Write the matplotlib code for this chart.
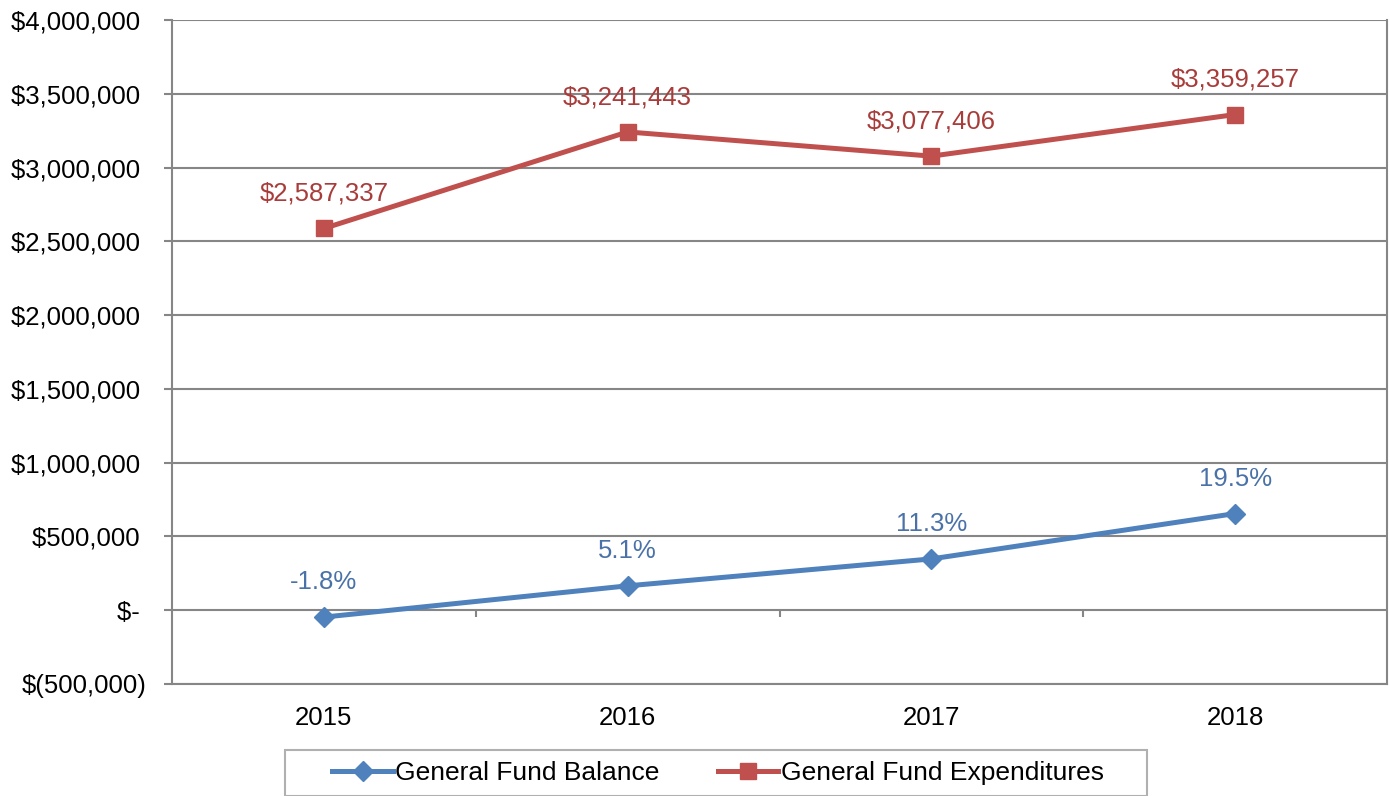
import matplotlib.pyplot as plt
from matplotlib.patches import Rectangle

plt.rcParams['font.family'] = ['Liberation Sans', 'DejaVu Sans']

# data
years = ['2015', '2016', '2017', '2018']
expenditures = [2587337, 3241443, 3077406, 3359257]
balance_pct = [-1.8, 5.1, 11.3, 19.5]
balance = [-46572, 165314, 347747, 655055]
y_ticks = [-500000, 0, 500000, 1000000, 1500000, 2000000, 2500000, 3000000, 3500000, 4000000]
y_tick_labels = ['$(500,000)', '$- ', '$500,000 ', '$1,000,000 ', '$1,500,000 ', '$2,000,000 ',
                 '$2,500,000 ', '$3,000,000 ', '$3,500,000 ', '$4,000,000 ']

RED = '#C0504D'
BLUE = '#4F81BD'
GRID = '#868686'

fig = plt.figure(figsize=(13.9, 7.96), dpi=100)
ax = fig.add_axes([172 / 1390, 1 - 684 / 796, (1387 - 172) / 1390, (684 - 20) / 796])

x = range(len(years))
ax.plot(x, balance, color=BLUE, lw=3.6, marker='D', ms=10, label='General Fund Balance', zorder=4)
ax.plot(x, expenditures, color=RED, lw=3.6, marker='s', ms=11.5, label='General Fund Expenditures', zorder=4)

# data labels
for i, v in enumerate(expenditures):
    ax.annotate(f'${v:,}', (i, v), xytext=(0, 25), textcoords='offset points',
                ha='center', va='center', fontsize=18.5, color='#A83C3A')
for i, v in enumerate(balance):
    ax.annotate(f'{balance_pct[i]}%', (i, v), xytext=(0, 25), textcoords='offset points',
                ha='center', va='center', fontsize=18.5, color='#4A72A8')

ax.set_xlim(-0.5, 3.5)
ax.set_ylim(-500000, 4000000)
ax.set_yticks(y_ticks)
ax.set_yticklabels(y_tick_labels)
ax.set_xticks(list(x))
ax.set_xticklabels(years)

ax.tick_params(axis='y', labelsize=18.5, length=6, width=1.5, color=GRID, pad=12)
ax.tick_params(axis='x', labelsize=18.5, length=0, pad=16)

ax.grid(axis='y', color=GRID, lw=1.5)
ax.set_axisbelow(True)
for s in ['left', 'bottom', 'right', 'top']:
    ax.spines[s].set_color(GRID)
    ax.spines[s].set_linewidth(1.5)
ax.spines['top'].set_visible(False)

# category tick marks on the zero line
ax.vlines([0.5, 1.5, 2.5], -48000, 0, color=GRID, lw=1.5)

# legend with a hand-drawn box
fig.patches.append(Rectangle((285 / 1390, 0), (1147 - 285) / 1390, 46 / 796,
                             transform=fig.transFigure, fill=False, edgecolor='#B0B0B0', lw=1.5))
fig.legend(loc='center', bbox_to_anchor=(718 / 1390, 1 - 773 / 796), ncol=2, frameon=False,
           fontsize=19, handlelength=2.3, handletextpad=0.08, columnspacing=2.2)

fig.savefig('out.png', dpi=100)
